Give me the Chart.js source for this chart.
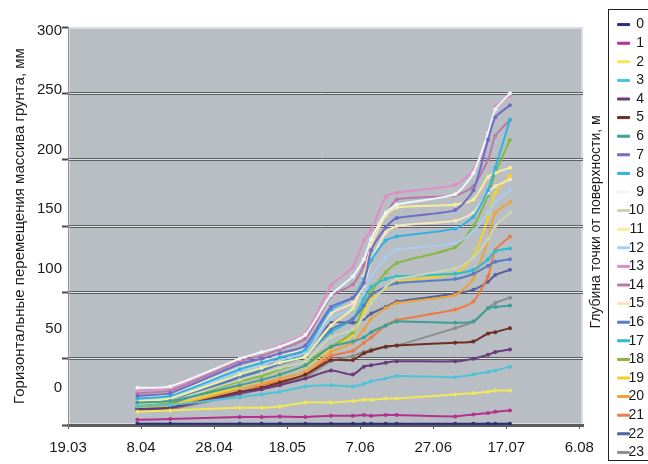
<!DOCTYPE html>
<html>
<head>
<meta charset="utf-8">
<script src="https://cdn.jsdelivr.net/npm/chart.js@4/dist/chart.umd.min.js"></script>
<style>
  html, body { margin: 0; padding: 0; background: #ffffff; }
  #wrap { width: 648px; height: 464px; position: relative; }
</style>
</head>
<body>
<div id="wrap"><canvas id="chart"></canvas></div>
<script>
// Measurement dates, as days counted from 19.03
const MEASURE_DAYS = [19, 28, 47, 53, 58, 65, 72, 78, 81, 83, 87, 90, 106, 111, 115, 117, 121];

// Date axis: tick positions (days from 19.03) and their labels
const DATE_TICK_DAYS = [0, 20, 40, 60, 80, 100, 120, 140];
const DATE_TICKS = ['19.03', '8.04', '28.04', '18.05', '7.06', '27.06', '17.07', '6.08'];

// Value axis labels, mm
const Y_TICKS = [0, 50, 100, 150, 200, 250, 300];

// Legend entries: depth of the point below the surface, m
const DEPTHS = ['0','1','2','3','4','5','6','7','8','9','10','11','12','13','14','15','16','17','18','19','20','21','22','23'];

// Horizontal displacement at each measurement date, mm
const depth0  = [1, 1, 1, 1, 1, 1, 1, 1, 1, 1, 1, 1, 1, 1, 1, 1, 1];
const depth1  = [4, 4.5, 6, 6, 6.5, 6, 7, 7, 7.5, 7, 7.5, 7.5, 6.5, 8, 9, 10, 11];
const depth2  = [10, 11, 13, 13, 14, 17, 17, 18, 19, 19, 20, 20, 23, 24, 25, 26, 26];
const depth3  = [14, 15, 21, 23, 25, 29, 30, 29, 31, 33, 35, 37, 36, 38, 40, 41, 44];
const depth4  = [12, 13, 24, 27, 30, 35, 41, 38, 44, 45, 47, 48, 48, 50, 53, 55, 57];
const depth5  = [12, 13, 25, 28, 32, 38, 49, 49, 54, 56, 59, 60, 62, 63, 69, 70, 73];
const depth6  = [17, 18, 30, 34, 38, 45, 59, 63, 66, 70, 75, 78, 77, 78, 88, 89, 90];
const depth7  = [22, 24, 46, 50, 54, 60, 89, 96, 107, 132, 149, 156, 162, 177, 215, 232, 241];
const depth8  = [20, 22, 42, 47, 51, 57, 87, 96, 110, 124, 139, 142, 148, 157, 177, 194, 230];
const depth9  = [28, 29, 50, 55, 59, 68, 98, 112, 125, 140, 160, 166, 174, 190, 220, 238, 250];
const depth10 = [16, 18, 34, 39, 43, 48, 66, 72, 82, 92, 104, 110, 118, 126, 140, 150, 160];
const depth11 = [18, 20, 38, 43, 47, 52, 75, 88, 112, 135, 158, 164, 166, 170, 187, 190, 194];
const depth12 = [19, 21, 40, 45, 49, 55, 80, 88, 100, 112, 126, 132, 137, 146, 160, 168, 177];
const depth13 = [26, 28, 50, 55, 60, 69, 105, 119, 139, 147, 172, 175, 181, 192, 215, 240, 248];
const depth14 = [24, 26, 48, 52, 57, 65, 97, 106, 120, 135, 158, 170, 173, 180, 200, 218, 230];
const depth15 = [21, 23, 43, 48, 52, 58, 84, 92, 105, 124, 145, 150, 154, 160, 175, 180, 185];
const depth16 = [17, 19, 36, 41, 46, 52, 72, 80, 90, 98, 104, 107, 110, 114, 120, 123, 125];
const depth17 = [18, 20, 38, 42, 47, 53, 70, 80, 95, 104, 110, 112, 114, 117, 125, 131, 133];
const depth18 = [15, 17, 33, 37, 42, 48, 59, 70, 90, 100, 115, 122, 134, 150, 173, 190, 215];
const depth19 = [14, 15, 29, 34, 38, 44, 58, 68, 85, 95, 103, 108, 114, 127, 156, 175, 188];
const depth20 = [13, 14, 27, 31, 35, 40, 55, 62, 72, 80, 88, 92, 98, 110, 140, 160, 168];
const depth21 = [14, 15, 24, 30, 33, 38, 52, 56, 62, 66, 75, 79, 87, 93, 112, 132, 142];
const depth22 = [13, 16, 36, 41, 51, 56, 77, 77, 80, 84, 89, 93, 99, 102, 108, 113, 117];
const depth23 = [11, 12, 23, 27, 31, 36, 48, 52, 55, 57, 59, 60, 73, 78, 88, 92, 96];

const SERIES = [depth0, depth1, depth2, depth3, depth4, depth5, depth6, depth7, depth8, depth9,
  depth10, depth11, depth12, depth13, depth14, depth15, depth16, depth17, depth18, depth19,
  depth20, depth21, depth22, depth23];

// Line colours, one per depth
const COLORS = ['#2b2f7a', '#b5308f', '#f2e65a', '#4cc3d6', '#6a3a7a', '#6e2e22', '#3e9e98', '#6f6cc8',
  '#2fb2e6', '#eef6fa', '#c8d6b4', '#f6ee9a', '#a9cdf0', '#e08cc6', '#b87aa8', '#f6e6c0',
  '#5a7cc4', '#2cbccc', '#86b83e', '#f2d02a', '#eea23a', '#ec7a44', '#56609a', '#8c8c8c'];

const FONT_FAMILY = "'Liberation Sans Narrow', 'Liberation Sans', Arial, sans-serif";
const TEXT_COLOR = '#1a1a1a';

const datasets = SERIES.map((values, i) => ({
  label: DEPTHS[i],
  data: values.map((v, k) => ({ x: MEASURE_DAYS[k], y: v })),
  borderColor: COLORS[i],
  backgroundColor: COLORS[i],
  pointBackgroundColor: COLORS[i],
  pointBorderColor: COLORS[i],
  borderWidth: 2,
  pointRadius: 2,
  pointBorderWidth: 0,
  tension: 0.2,
  fill: false,
  xAxisID: 'x',
  yAxisID: 'y'
}));

// Grey plot panel with a light bevelled edge
const plotPanel = {
  id: 'plotPanel',
  beforeDraw(chart) {
    const { ctx, chartArea: a } = chart;
    ctx.save();
    ctx.fillStyle = '#b9bec4';
    ctx.fillRect(a.left, a.top, a.width, a.height);
    ctx.strokeStyle = 'rgba(232,234,237,0.9)';
    ctx.lineWidth = 1.5;
    ctx.strokeRect(a.left + 1, a.top + 1, a.width - 2, a.height - 2);
    ctx.restore();
  }
};

// Frame around the legend and the vertical caption of the legend
const legendFrame = {
  id: 'legendFrame',
  afterDraw(chart) {
    const { ctx, legend, chartArea: a } = chart;
    ctx.save();
    ctx.strokeStyle = '#222';
    ctx.lineWidth = 1;
    ctx.strokeRect(Math.round(legend.left - 5) + 0.5, 9.5, 80, 451);

    ctx.fillStyle = TEXT_COLOR;
    ctx.font = "14px " + FONT_FAMILY;
    ctx.textAlign = 'center';
    ctx.textBaseline = 'middle';
    ctx.translate(a.right + 13, (a.top + a.bottom) / 2 - 4);
    ctx.rotate(-Math.PI / 2);
    ctx.fillText('Глубина точки от поверхности, м', 0, 0);
    ctx.restore();
  }
};

new Chart(document.getElementById('chart'), {
  type: 'line',
  data: { datasets },
  plugins: [plotPanel, legendFrame],
  options: {
    responsive: true,
    maintainAspectRatio: false,
    animation: false,
    devicePixelRatio: 1,
    layout: { padding: { left: 0, right: 4, top: 0, bottom: 0 } },
    plugins: {
      tooltip: { enabled: false },
      legend: {
        position: 'right',
        align: 'end',
        maxWidth: 31,
        labels: {
          boxWidth: 12,
          boxHeight: 2,
          padding: 4.6,
          textAlign: 'right',
          color: TEXT_COLOR,
          font: { family: FONT_FAMILY, size: 14 },
          generateLabels(chart) {
            return Chart.defaults.plugins.legend.labels.generateLabels(chart)
              .map(item => Object.assign(item, { lineWidth: 1 }));
          }
        }
      }
    },
    scales: {
      x: {
        type: 'linear',
        position: 'bottom',
        min: 0,
        max: 141,
        afterBuildTicks(scale) { scale.ticks = DATE_TICK_DAYS.map(v => ({ value: v })); },
        ticks: {
          callback: (value, index) => DATE_TICKS[index],
          color: TEXT_COLOR,
          font: { family: FONT_FAMILY, size: 15 },
          padding: 10,
          maxRotation: 0,
          autoSkip: false
        },
        grid: { drawOnChartArea: false, tickLength: 4, color: '#555', lineWidth: 1 },
        border: { color: '#5a5c60', width: 3 },
        afterFit(scale) { scale.height = 39; }
      },
      xt: {
        type: 'linear',
        position: 'top',
        ticks: { display: false },
        grid: { display: false, drawTicks: false },
        border: { display: false },
        afterFit(scale) { scale.height = 27; }
      },
      yl: {
        type: 'linear',
        position: 'left',
        weight: 2,
        min: -31,
        max: 303,
        afterBuildTicks(scale) { scale.ticks = Y_TICKS.map(v => ({ value: v })); },
        ticks: { color: TEXT_COLOR, font: { family: FONT_FAMILY, size: 15 }, padding: 0 },
        grid: { display: false, drawTicks: false },
        border: { display: false },
        title: {
          display: true,
          text: 'Горизонтальные перемещения массива грунта, мм',
          color: TEXT_COLOR,
          font: { family: "'Liberation Sans', Arial, sans-serif", size: 15 },
          padding: { top: 11, bottom: 0 }
        },
        afterFit(scale) { scale.width = 62; }
      },
      y: {
        type: 'linear',
        position: 'left',
        weight: 1,
        min: 0,
        max: 300,
        ticks: { display: false, stepSize: 50 },
        grid: {
          color: ctx => (ctx.tick && ctx.tick.value === 300) ? 'rgba(0,0,0,0)' : '#5d5f62',
          lineWidth: 3,
          tickLength: 6,
          tickColor: '#4a4a4a',
          tickWidth: 2
        },
        border: { color: '#8e9297', width: 1 },
        afterFit(scale) { scale.width = 6; }
      },
      yhl: {
        type: 'linear',
        position: 'left',
        weight: 0,
        min: 1.9,
        max: 301.9,
        ticks: { display: false, stepSize: 50 },
        grid: {
          color: ctx => (ctx.tick && ctx.tick.value > 0 && ctx.tick.value < 300) ? 'rgba(238,240,242,0.9)' : 'rgba(0,0,0,0)',
          lineWidth: 1,
          drawTicks: false
        },
        border: { display: false },
        afterFit(scale) { scale.width = 0; }
      },
      yr: {
        type: 'linear',
        position: 'right',
        weight: 0,
        ticks: { display: false },
        grid: { display: false, drawTicks: false },
        border: { display: false },
        afterFit(scale) { scale.width = 30; }
      }
    }
  }
});
</script>
</body>
</html>
